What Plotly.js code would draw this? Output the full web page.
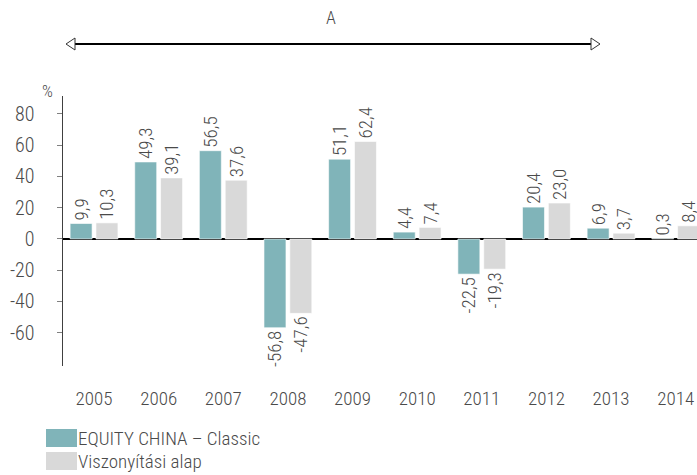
<!DOCTYPE html>
<html>
<head>
<meta charset="utf-8">
<script src="https://cdn.plot.ly/plotly-3.0.1.min.js"></script>
<style>html,body{margin:0;padding:0;background:#fff;}#chart{width:697px;height:475px;}</style>
</head>
<body>
<div id="chart"></div>
<script>
const years = ['2005','2006','2007','2008','2009','2010','2011','2012','2013','2014'];
const seriesNames = ['EQUITY CHINA – Classic', 'Viszonyítási alap'];
const equityValues = [9.9, 49.3, 56.5, -56.8, 51.1, 4.4, -22.5, 20.4, 6.9, 0.3];
const benchmarkValues = [10.3, 39.1, 37.6, -47.6, 62.4, 7.4, -19.3, 23.0, 3.7, 8.4];
const yTickVals = [-60, -40, -20, 0, 20, 40, 60, 80];
const periodLabel = 'A';
const unitLabel = '%';

const colors = ['#80b4b9', '#d9d9d9'];
const textColor = '#4a4a4a';
const FONT = '"Liberation Sans Narrow", "Roboto Condensed", "DejaVu Sans Condensed", sans-serif';

const W = 697, H = 475;
const M = {l: 63, r: 0, t: 96, b: 109};
const plotW = W - M.l - M.r, plotH = H - M.t - M.b;
const px = X => (X - M.l) / plotW;
const py = Y => (H - M.b - Y) / plotH;

const fmt = v => v.toFixed(1).replace('.', ',');

function barTrace(name, vals, color) {
  return {
    type: 'bar',
    name: name,
    x: years,
    y: vals,
    text: vals.map(fmt),
    textposition: 'outside',
    textangle: -90,
    constraintext: 'none',
    cliponaxis: false,
    textfont: {family: FONT, size: 19, color: textColor, weight: 300},
    marker: {color: color, line: {color: 'rgba(255,255,255,0.6)', width: 1}},
    hoverinfo: 'x+y',
    showlegend: false
  };
}

const data = [
  barTrace(seriesNames[0], equityValues, colors[0]),
  barTrace(seriesNames[1], benchmarkValues, colors[1])
];

// arrow
const ay = 44, ax0 = 66, ax1 = 600, headL = 9, headH = 6;
const shapes = [
  {type: 'line', xref: 'paper', yref: 'paper', x0: px(ax0 + headL), x1: px(ax1 - headL), y0: py(ay), y1: py(ay),
   line: {color: '#000', width: 2}},
  {type: 'path', xref: 'paper', yref: 'paper',
   path: `M ${px(ax0)} ${py(ay)} L ${px(ax0 + headL)} ${py(ay - headH)} L ${px(ax0 + headL)} ${py(ay + headH)} Z`,
   fillcolor: '#fff', line: {color: '#333', width: 1}},
  {type: 'path', xref: 'paper', yref: 'paper',
   path: `M ${px(ax1)} ${py(ay)} L ${px(ax1 - headL)} ${py(ay - headH)} L ${px(ax1 - headL)} ${py(ay + headH)} Z`,
   fillcolor: '#fff', line: {color: '#333', width: 1}}
];

// custom legend swatches
const legY = [438, 461];
seriesNames.forEach((n, i) => {
  shapes.push({type: 'rect', xref: 'paper', yref: 'paper', x0: px(46), x1: px(77), y0: py(legY[i] - 9), y1: py(legY[i] + 9),
    fillcolor: colors[i], line: {width: 0}});
});

const annotations = [
  {text: periodLabel, xref: 'paper', yref: 'paper', x: px(331), y: py(18), showarrow: false,
   font: {family: FONT, size: 18, color: textColor, weight: 300}, xanchor: 'center', yanchor: 'middle'},
  {text: unitLabel, xref: 'paper', yref: 'paper', x: px(47), y: py(91), showarrow: false,
   font: {family: FONT, size: 17, color: textColor, weight: 300}, xanchor: 'center', yanchor: 'middle'}
];
seriesNames.forEach((n, i) => {
  annotations.push({text: n, xref: 'paper', yref: 'paper', x: px(76), y: py(legY[i]), showarrow: false,
    xanchor: 'left', yanchor: 'middle', font: {family: FONT, size: 19, color: textColor, weight: 300}});
});

const layout = {
  width: W, height: H,
  margin: M,
  paper_bgcolor: '#fff', plot_bgcolor: '#fff',
  barmode: 'group',
  bargap: 0.2,
  bargroupgap: 0.15,
  showlegend: false,
  font: {family: FONT, color: textColor},
  xaxis: {
    type: 'category',
    range: [-0.48, 9.33],
    showline: false, showgrid: false, zeroline: false,
    ticks: '', ticklabelstandoff: 19,
    tickfont: {family: FONT, size: 19, color: textColor, weight: 300}
  },
  yaxis: {
    range: [-81.3, 91.5],
    tickvals: yTickVals,
    ticktext: yTickVals.map(String),
    showgrid: false,
    showline: true, linecolor: '#404040', linewidth: 1.5,
    ticks: 'outside', ticklen: 5, tickcolor: '#808080', tickwidth: 1,
    ticklabelstandoff: 18,
    zeroline: true, zerolinecolor: '#000', zerolinewidth: 1.5,
    tickfont: {family: FONT, size: 20, color: textColor, weight: 300}
  },
  shapes: shapes,
  annotations: annotations
};

Plotly.newPlot('chart', data, layout, {staticPlot: true, displayModeBar: false});
</script>
</body>
</html>
